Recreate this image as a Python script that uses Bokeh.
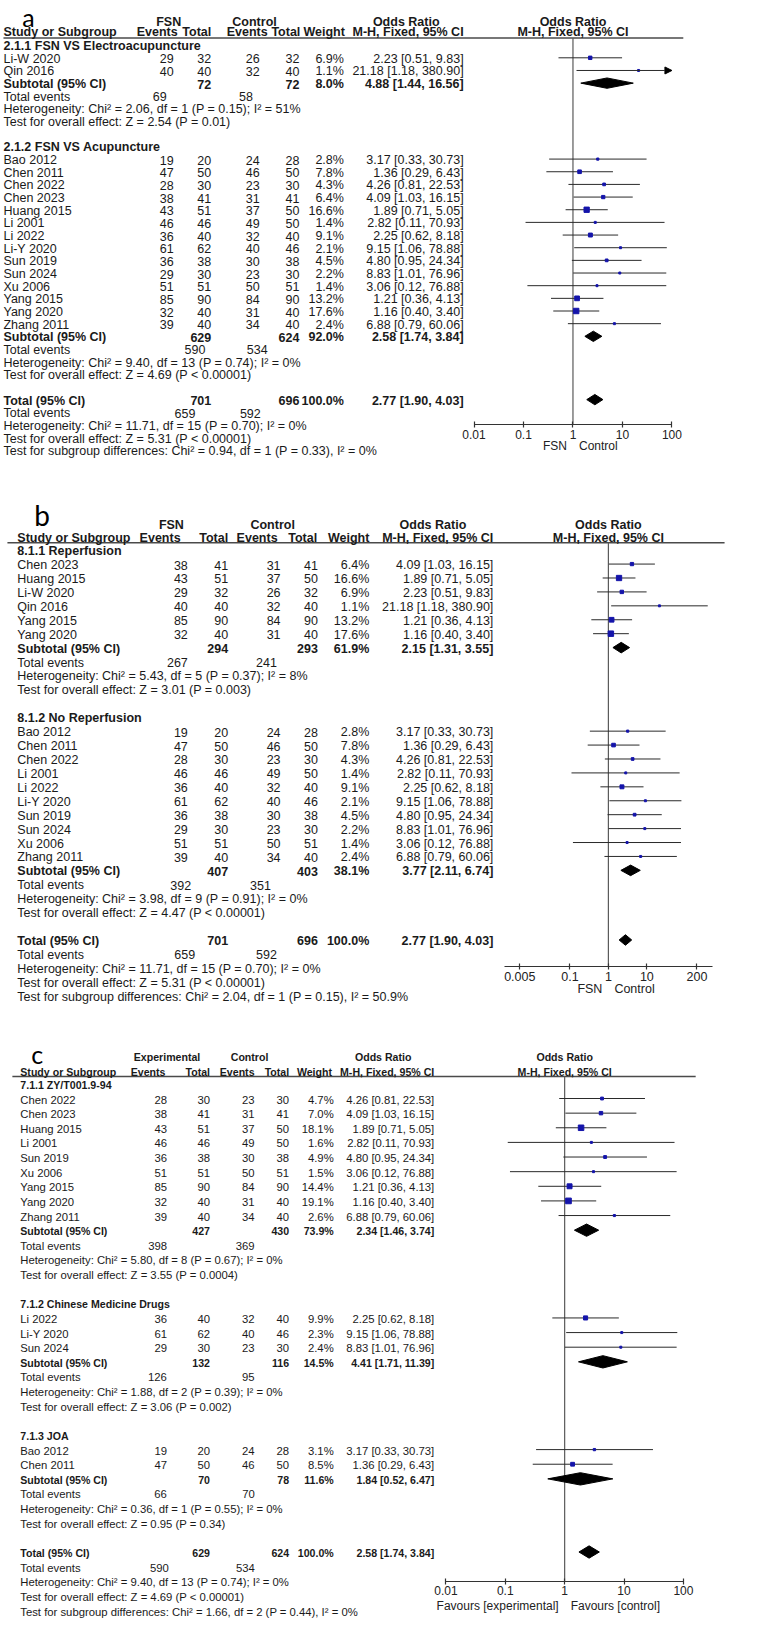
import math
from bokeh.plotting import figure
from bokeh.models import (Range1d, LogScale, LogAxis, FixedTicker, CustomJSTickFormatter,
                          ColumnDataSource, Arrow, NormalHead)
from bokeh.core.properties import value
from bokeh.embed import file_html
from bokeh.resources import INLINE

# ====================== DATA: panel a ======================
A_GROUPS = ["2.1.1 FSN VS Electroacupuncture", "2.1.2 FSN VS Acupuncture"]
A_STUDY = ["Li-W 2020", "Qin 2016", "Bao 2012", "Chen 2011", "Chen 2022", "Chen 2023", "Huang 2015",
           "Li 2001", "Li 2022", "Li-Y 2020", "Sun 2019", "Sun 2024", "Xu 2006", "Yang 2015",
           "Yang 2020", "Zhang 2011"]
A_GROUP = [0, 0, 1, 1, 1, 1, 1, 1, 1, 1, 1, 1, 1, 1, 1, 1]
A_EXP_EV = [29, 40, 19, 47, 28, 38, 43, 46, 36, 61, 36, 29, 51, 85, 32, 39]
A_EXP_N = [32, 40, 20, 50, 30, 41, 51, 46, 40, 62, 38, 30, 51, 90, 40, 40]
A_CTL_EV = [26, 32, 24, 46, 23, 31, 37, 49, 32, 40, 30, 23, 50, 84, 31, 34]
A_CTL_N = [32, 40, 28, 50, 30, 41, 50, 50, 40, 46, 38, 30, 51, 90, 40, 40]
A_WEIGHT = [6.9, 1.1, 2.8, 7.8, 4.3, 6.4, 16.6, 1.4, 9.1, 2.1, 4.5, 2.2, 1.4, 13.2, 17.6, 2.4]
A_OR = [2.23, 21.18, 3.17, 1.36, 4.26, 4.09, 1.89, 2.82, 2.25, 9.15, 4.80, 8.83, 3.06, 1.21, 1.16, 6.88]
A_LO = [0.51, 1.18, 0.33, 0.29, 0.81, 1.03, 0.71, 0.11, 0.62, 1.06, 0.95, 1.01, 0.12, 0.36, 0.40, 0.79]
A_HI = [9.83, 380.90, 30.73, 6.43, 22.53, 16.15, 5.05, 70.93, 8.18, 78.88, 24.34, 76.96, 76.88, 4.13, 3.40, 60.06]
A_SUB_EXP_N = [72, 629]
A_SUB_CTL_N = [72, 624]
A_SUB_WEIGHT = [8.0, 92.0]
A_SUB_OR = [4.88, 2.58]
A_SUB_LO = [1.44, 1.74]
A_SUB_HI = [16.56, 3.84]
A_SUB_EXP_EV = [69, 590]
A_SUB_CTL_EV = [58, 534]
A_SUB_HET = ["Heterogeneity: Chi² = 2.06, df = 1 (P = 0.15); I² = 51%",
             "Heterogeneity: Chi² = 9.40, df = 13 (P = 0.74); I² = 0%"]
A_SUB_Z = ["Test for overall effect: Z = 2.54 (P = 0.01)",
           "Test for overall effect: Z = 4.69 (P < 0.00001)"]
A_TOT_N = [701, 696]
A_TOT_WEIGHT = 100.0
A_TOT_CI = [2.77, 1.90, 4.03]
A_TOT_EV = [659, 592]
A_TOT_HET = "Heterogeneity: Chi² = 11.71, df = 15 (P = 0.70); I² = 0%"
A_TOT_Z = "Test for overall effect: Z = 5.31 (P < 0.00001)"
A_SUBDIFF = "Test for subgroup differences: Chi² = 0.94, df = 1 (P = 0.33), I² = 0%"
A_TICKS = [0.01, 0.1, 1, 10, 100]
A_ARMS = ["FSN", "Control"]
A_FAVOURS = ["FSN", "Control"]

# ====================== DATA: panel b ======================
B_GROUPS = ["8.1.1 Reperfusion", "8.1.2 No Reperfusion"]
B_STUDY = ["Chen 2023", "Huang 2015", "Li-W 2020", "Qin 2016", "Yang 2015", "Yang 2020",
           "Bao 2012", "Chen 2011", "Chen 2022", "Li 2001", "Li 2022", "Li-Y 2020", "Sun 2019",
           "Sun 2024", "Xu 2006", "Zhang 2011"]
B_GROUP = [0, 0, 0, 0, 0, 0, 1, 1, 1, 1, 1, 1, 1, 1, 1, 1]
B_EXP_EV = [38, 43, 29, 40, 85, 32, 19, 47, 28, 46, 36, 61, 36, 29, 51, 39]
B_EXP_N = [41, 51, 32, 40, 90, 40, 20, 50, 30, 46, 40, 62, 38, 30, 51, 40]
B_CTL_EV = [31, 37, 26, 32, 84, 31, 24, 46, 23, 49, 32, 40, 30, 23, 50, 34]
B_CTL_N = [41, 50, 32, 40, 90, 40, 28, 50, 30, 50, 40, 46, 38, 30, 51, 40]
B_WEIGHT = [6.4, 16.6, 6.9, 1.1, 13.2, 17.6, 2.8, 7.8, 4.3, 1.4, 9.1, 2.1, 4.5, 2.2, 1.4, 2.4]
B_OR = [4.09, 1.89, 2.23, 21.18, 1.21, 1.16, 3.17, 1.36, 4.26, 2.82, 2.25, 9.15, 4.80, 8.83, 3.06, 6.88]
B_LO = [1.03, 0.71, 0.51, 1.18, 0.36, 0.40, 0.33, 0.29, 0.81, 0.11, 0.62, 1.06, 0.95, 1.01, 0.12, 0.79]
B_HI = [16.15, 5.05, 9.83, 380.90, 4.13, 3.40, 30.73, 6.43, 22.53, 70.93, 8.18, 78.88, 24.34, 76.96, 76.88, 60.06]
B_SUB_EXP_N = [294, 407]
B_SUB_CTL_N = [293, 403]
B_SUB_WEIGHT = [61.9, 38.1]
B_SUB_OR = [2.15, 3.77]
B_SUB_LO = [1.31, 2.11]
B_SUB_HI = [3.55, 6.74]
B_SUB_EXP_EV = [267, 392]
B_SUB_CTL_EV = [241, 351]
B_SUB_HET = ["Heterogeneity: Chi² = 5.43, df = 5 (P = 0.37); I² = 8%",
             "Heterogeneity: Chi² = 3.98, df = 9 (P = 0.91); I² = 0%"]
B_SUB_Z = ["Test for overall effect: Z = 3.01 (P = 0.003)",
           "Test for overall effect: Z = 4.47 (P < 0.00001)"]
B_TOT_N = [701, 696]
B_TOT_WEIGHT = 100.0
B_TOT_CI = [2.77, 1.90, 4.03]
B_TOT_EV = [659, 592]
B_TOT_HET = "Heterogeneity: Chi² = 11.71, df = 15 (P = 0.70); I² = 0%"
B_TOT_Z = "Test for overall effect: Z = 5.31 (P < 0.00001)"
B_SUBDIFF = "Test for subgroup differences: Chi² = 2.04, df = 1 (P = 0.15), I² = 50.9%"
B_TICKS = [0.005, 0.1, 1, 10, 200]
B_ARMS = ["FSN", "Control"]
B_FAVOURS = ["FSN", "Control"]

# ====================== DATA: panel c ======================
C_GROUPS = ["7.1.1 ZY/T001.9-94", "7.1.2 Chinese Medicine Drugs", "7.1.3 JOA"]
C_STUDY = ["Chen 2022", "Chen 2023", "Huang 2015", "Li 2001", "Sun 2019", "Xu 2006", "Yang 2015",
           "Yang 2020", "Zhang 2011", "Li 2022", "Li-Y 2020", "Sun 2024", "Bao 2012", "Chen 2011"]
C_GROUP = [0, 0, 0, 0, 0, 0, 0, 0, 0, 1, 1, 1, 2, 2]
C_EXP_EV = [28, 38, 43, 46, 36, 51, 85, 32, 39, 36, 61, 29, 19, 47]
C_EXP_N = [30, 41, 51, 46, 38, 51, 90, 40, 40, 40, 62, 30, 20, 50]
C_CTL_EV = [23, 31, 37, 49, 30, 50, 84, 31, 34, 32, 40, 23, 24, 46]
C_CTL_N = [30, 41, 50, 50, 38, 51, 90, 40, 40, 40, 46, 30, 28, 50]
C_WEIGHT = [4.7, 7.0, 18.1, 1.6, 4.9, 1.5, 14.4, 19.1, 2.6, 9.9, 2.3, 2.4, 3.1, 8.5]
C_OR = [4.26, 4.09, 1.89, 2.82, 4.80, 3.06, 1.21, 1.16, 6.88, 2.25, 9.15, 8.83, 3.17, 1.36]
C_LO = [0.81, 1.03, 0.71, 0.11, 0.95, 0.12, 0.36, 0.40, 0.79, 0.62, 1.06, 1.01, 0.33, 0.29]
C_HI = [22.53, 16.15, 5.05, 70.93, 24.34, 76.88, 4.13, 3.40, 60.06, 8.18, 78.88, 76.96, 30.73, 6.43]
C_SUB_EXP_N = [427, 132, 70]
C_SUB_CTL_N = [430, 116, 78]
C_SUB_WEIGHT = [73.9, 14.5, 11.6]
C_SUB_OR = [2.34, 4.41, 1.84]
C_SUB_LO = [1.46, 1.71, 0.52]
C_SUB_HI = [3.74, 11.39, 6.47]
C_SUB_EXP_EV = [398, 126, 66]
C_SUB_CTL_EV = [369, 95, 70]
C_SUB_HET = ["Heterogeneity: Chi² = 5.80, df = 8 (P = 0.67); I² = 0%",
             "Heterogeneity: Chi² = 1.88, df = 2 (P = 0.39); I² = 0%",
             "Heterogeneity: Chi² = 0.36, df = 1 (P = 0.55); I² = 0%"]
C_SUB_Z = ["Test for overall effect: Z = 3.55 (P = 0.0004)",
           "Test for overall effect: Z = 3.06 (P = 0.002)",
           "Test for overall effect: Z = 0.95 (P = 0.34)"]
C_TOT_N = [629, 624]
C_TOT_WEIGHT = 100.0
C_TOT_CI = [2.58, 1.74, 3.84]
C_TOT_EV = [590, 534]
C_TOT_HET = "Heterogeneity: Chi² = 9.40, df = 13 (P = 0.74); I² = 0%"
C_TOT_Z = "Test for overall effect: Z = 4.69 (P < 0.00001)"
C_SUBDIFF = "Test for subgroup differences: Chi² = 1.66, df = 2 (P = 0.44), I² = 0%"
C_TICKS = [0.01, 0.1, 1, 10, 100]
C_ARMS = ["Experimental", "Control"]
C_FAVOURS = ["Favours [experimental]", "Favours [control]"]

NULL_OR = 1

# ====================== LAYOUT (positions / styles) ======================
LAYOUT_A = dict(rng="fa", x_one=578.5, ppd=50.0, row0=48.9, dy=12.73, xl=3,
                cols=[175, 213, 262, 302, 347, 468], ev_x=[(168, 255), (207, 270)], tot_ev_x=(197, 263),
                head_y=26, head2_y=36, head_x=[170, 256.7, 410], head2_r=[179, 213, 270, 303, 348, 468],
                hline=(3, 690, 41.7), axis_y=430.7, bounds=(0.01, 100), fav_y=452,
                fs=12.5, fsb=12.5, tick_fs=12, letter=("a", 22, 21, 25), dh=5.2)
LAYOUT_B = dict(rng="fb", x_one=614.3, ppd=38.9, row0=556.7, dy=14.0, xl=17,
                cols=[189.3, 230, 283, 320.7, 372.7, 498], ev_x=[(189.3, 279.3), (192.7, 273.3)],
                tot_ev_x=(196.7, 279.3),
                head_y=531.7, head2_y=544.3, head_x=[172.7, 275, 437], head2_r=[182, 230, 280, 320, 372.7, 498],
                hline=(7, 731.7, 549.3), axis_y=975.7, bounds=(0.002, 500), fav_y=998,
                fs=12.5, fsb=12.5, tick_fs=12.5, letter=("b", 34, 521, 28), dh=5.3)
LAYOUT_C = dict(rng="fc", x_one=570.1, ppd=60.0, row0=1093.4, dy=14.71, xl=20,
                cols=[168.3, 211.7, 256.7, 291.7, 336.7, 438.3],
                ev_x=[(168.3, 256.7), (168, 256.7), (168, 257)], tot_ev_x=(170, 257),
                head_y=1066, head2_y=1081.7, head_x=[168.3, 251.7, 386.7],
                head2_r=[166.7, 211.7, 256.7, 291.7, 335, 438.3],
                hline=(12, 702.5, 1086), axis_y=1593.7, bounds=(0.01, 100), fav_y=1618,
                fs=11.3, fsb=10.6, tick_fs=12, letter=("c", 31, 1063, 25), dh=6.2)

X_SPAN = (0, 767)
Y_SPAN = (1634, 4)
TEXT_FONT = "Liberation Sans"
SQUARE_COLOR = "#1414aa"
LINE_COLOR = "#2a2a2a"
AXIS_COLOR = "#333333"


def log_range(L):
    lo = 10 ** ((X_SPAN[0] - L["x_one"]) / L["ppd"])
    hi = 10 ** ((X_SPAN[1] - L["x_one"]) / L["ppd"])
    return Range1d(lo, hi)


p = figure(width=759, height=1621, x_range=Range1d(*X_SPAN), y_range=Range1d(*Y_SPAN),
           output_backend="svg", toolbar_location=None, x_axis_location=None, y_axis_location=None,
           min_border=0, outline_line_color=None, title=None,
           extra_x_ranges={L["rng"]: log_range(L) for L in (LAYOUT_A, LAYOUT_B, LAYOUT_C)},
           extra_x_scales={L["rng"]: LogScale() for L in (LAYOUT_A, LAYOUT_B, LAYOUT_C)})
p.xgrid.visible = False
p.ygrid.visible = False


def fmt_ci(e, l, h):
    return f"{e:.2f} [{l:.2f}, {h:.2f}]"


def build(D, L):
    rng = L["rng"]
    off = 1.0
    T = dict(x=[], y=[], text=[], align=[], style=[], size=[])

    def add(x, y, s, align="left", bold=False):
        T["x"].append(x)
        T["y"].append(y)
        T["text"].append(str(s))
        T["align"].append(align)
        T["style"].append("bold" if bold else "normal")
        T["size"].append(f'{L["fsb"] if bold else L["fs"]}px')

    def ty(r):
        return L["row0"] + r * L["dy"]

    cols, xl = L["cols"], L["xl"]
    add(L["head_x"][0], L["head_y"], D["arms"][0], "center", True)
    add(L["head_x"][1], L["head_y"], D["arms"][1], "center", True)
    add(L["head_x"][2], L["head_y"], "Odds Ratio", "center", True)
    add(xl, L["head2_y"], "Study or Subgroup", "left", True)
    for x, s in zip(L["head2_r"], ["Events", "Total", "Events", "Total", "Weight", "M-H, Fixed, 95% CI"]):
        add(x, L["head2_y"], s, "right", True)

    seg = dict(x0=[], x1=[], y=[])
    arr = dict(x0=[], x1=[], y=[])
    sq = dict(x=[], y=[], size=[])
    dia = dict(xs=[], ys=[])
    amax = L["bounds"][1]
    h = L["dh"]

    r = 0
    for g, gname in enumerate(D["groups"]):
        add(xl, ty(r) + off, gname, "left", True)
        r += 1
        for i, gi in enumerate(D["group"]):
            if gi != g:
                continue
            y = ty(r)
            add(xl, y + off, D["study"][i])
            add(cols[0], y + off, D["exp_ev"][i], "right")
            add(cols[1], y + off, D["exp_n"][i], "right")
            add(cols[2], y + off, D["ctl_ev"][i], "right")
            add(cols[3], y + off, D["ctl_n"][i], "right")
            add(cols[4], y + off, f'{D["w"][i]:.1f}%', "right")
            add(cols[5], y + off, fmt_ci(D["or"][i], D["lo"][i], D["hi"][i]), "right")
            if D["hi"][i] > amax:
                arr["x0"].append(D["lo"][i]); arr["x1"].append(amax); arr["y"].append(y)
            else:
                seg["x0"].append(D["lo"][i]); seg["x1"].append(D["hi"][i]); seg["y"].append(y)
            sq["x"].append(D["or"][i]); sq["y"].append(y)
            sq["size"].append(max(2.0, 1.3 * math.sqrt(D["w"][i])))
            r += 1
        y = ty(r)
        add(xl, y + off, "Subtotal (95% CI)", "left", True)
        add(cols[1], y + off, D["sub_exp_n"][g], "right", True)
        add(cols[3], y + off, D["sub_ctl_n"][g], "right", True)
        add(cols[4], y + off, f'{D["sub_w"][g]:.1f}%', "right", True)
        add(cols[5], y + off, fmt_ci(D["sub_or"][g], D["sub_lo"][g], D["sub_hi"][g]), "right", True)
        e, lo, hi = D["sub_or"][g], D["sub_lo"][g], D["sub_hi"][g]
        dia["xs"].append([lo, e, hi, e]); dia["ys"].append([y, y - h, y, y + h])
        r += 1
        add(xl, ty(r) + off, "Total events")
        add(L["ev_x"][g][0], ty(r) + off, D["sub_exp_ev"][g], "right")
        add(L["ev_x"][g][1], ty(r) + off, D["sub_ctl_ev"][g], "right")
        r += 1
        add(xl, ty(r) + off, D["sub_het"][g])
        r += 1
        add(xl, ty(r) + off, D["sub_z"][g])
        r += 2
    y = ty(r)
    add(xl, y + off, "Total (95% CI)", "left", True)
    add(cols[1], y + off, D["tot_n"][0], "right", True)
    add(cols[3], y + off, D["tot_n"][1], "right", True)
    add(cols[4], y + off, f'{D["tot_w"]:.1f}%', "right", True)
    e, lo, hi = D["tot_ci"]
    add(cols[5], y + off, fmt_ci(e, lo, hi), "right", True)
    dia["xs"].append([lo, e, hi, e]); dia["ys"].append([y, y - h, y, y + h])
    r += 1
    add(xl, ty(r) + off, "Total events")
    add(L["tot_ev_x"][0], ty(r) + off, D["tot_ev"][0], "right")
    add(L["tot_ev_x"][1], ty(r) + off, D["tot_ev"][1], "right")
    r += 1
    add(xl, ty(r) + off, D["tot_het"])
    r += 1
    add(xl, ty(r) + off, D["tot_z"])
    r += 1
    add(xl, ty(r) + off, D["subdiff"])

    # header rule
    x0, x1, yh = L["hline"]
    p.segment(x0=[x0], x1=[x1], y0=[yh], y1=[yh], line_color="#4a4a4a", line_width=1.6)

    # table texts
    p.text(x="x", y="y", text="text", source=ColumnDataSource(T), text_align="align",
           text_font_style="style", text_font_size="size", text_baseline="middle",
           text_font=value(TEXT_FONT), text_color="#1a1a1a")

    # panel letter
    lt, lx, ly, ls = L["letter"]
    p.text(x=[lx], y=[ly], text=[lt], text_font=value("Lato"), text_font_size=f"{ls}px",
           text_baseline="alphabetic", text_align="left", text_color="black")

    # forest header
    p.text(x=[NULL_OR, NULL_OR], y=[L["head_y"], L["head2_y"]], text=["Odds Ratio", "M-H, Fixed, 95% CI"],
           x_range_name=rng, text_align="center", text_baseline="middle", text_font_style="bold",
           text_font=value(TEXT_FONT), text_font_size=f'{L["fsb"]}px', text_color="#1a1a1a")

    # null line
    p.segment(x0=[NULL_OR], x1=[NULL_OR], y0=[yh], y1=[L["axis_y"]], x_range_name=rng,
              line_color="#5a5a5a", line_width=1.2)

    # study CIs
    p.segment(x0="x0", x1="x1", y0="y", y1="y", source=ColumnDataSource(seg), x_range_name=rng,
              line_color=LINE_COLOR, line_width=1)
    if arr["y"]:
        p.add_layout(Arrow(source=ColumnDataSource(arr), x_start="x0", x_end="x1", y_start="y", y_end="y",
                           x_range_name=rng, line_color=LINE_COLOR, line_width=1,
                           end=NormalHead(size=7, line_color="black", fill_color="black")))
    p.scatter(x="x", y="y", size="size", marker="square", source=ColumnDataSource(sq), x_range_name=rng,
              fill_color=SQUARE_COLOR, line_color=SQUARE_COLOR)
    p.patches(xs="xs", ys="ys", source=ColumnDataSource(dia), x_range_name=rng,
              fill_color="black", line_color="black")

    # odds-ratio axis, placed inside the plot at this panel's foot
    ax = LogAxis(x_range_name=rng, fixed_location=L["axis_y"], bounds=L["bounds"],
                 ticker=FixedTicker(ticks=D["ticks"]),
                 formatter=CustomJSTickFormatter(code="return tick.toString();"),
                 axis_line_color=AXIS_COLOR, axis_line_width=1.2,
                 major_tick_line_color=AXIS_COLOR, major_tick_line_width=1.2,
                 major_tick_in=3, major_tick_out=3, minor_tick_line_color=None,
                 major_label_text_font=TEXT_FONT, major_label_text_font_size=f'{L["tick_fs"]}px',
                 major_label_text_color="#222222", major_label_standoff=2)
    p.add_layout(ax, "below")

    # favours labels
    fav = ColumnDataSource(dict(x=[NULL_OR, NULL_OR], y=[L["fav_y"], L["fav_y"]], text=D["favours"],
                                align=["right", "left"], xo=[-6, 6]))
    p.text(x="x", y="y", text="text", source=fav, x_range_name=rng, text_align="align", x_offset="xo",
           text_baseline="middle", text_font=value(TEXT_FONT), text_font_size=f'{L["tick_fs"]}px',
           text_color="#222222")


def pack(groups, study, group, exp_ev, exp_n, ctl_ev, ctl_n, w, orr, lo, hi,
         sub_exp_n, sub_ctl_n, sub_w, sub_or, sub_lo, sub_hi, sub_exp_ev, sub_ctl_ev, sub_het, sub_z,
         tot_n, tot_w, tot_ci, tot_ev, tot_het, tot_z, subdiff, ticks, arms, favours):
    return dict(groups=groups, study=study, group=group, exp_ev=exp_ev, exp_n=exp_n, ctl_ev=ctl_ev,
                ctl_n=ctl_n, w=w, lo=lo, hi=hi, sub_exp_n=sub_exp_n, sub_ctl_n=sub_ctl_n, sub_w=sub_w,
                sub_or=sub_or, sub_lo=sub_lo, sub_hi=sub_hi, sub_exp_ev=sub_exp_ev, sub_ctl_ev=sub_ctl_ev,
                sub_het=sub_het, sub_z=sub_z, tot_n=tot_n, tot_w=tot_w, tot_ci=tot_ci, tot_ev=tot_ev,
                tot_het=tot_het, tot_z=tot_z, subdiff=subdiff, ticks=ticks, arms=arms, favours=favours,
                **{"or": orr})


build(pack(A_GROUPS, A_STUDY, A_GROUP, A_EXP_EV, A_EXP_N, A_CTL_EV, A_CTL_N, A_WEIGHT, A_OR, A_LO, A_HI,
           A_SUB_EXP_N, A_SUB_CTL_N, A_SUB_WEIGHT, A_SUB_OR, A_SUB_LO, A_SUB_HI, A_SUB_EXP_EV, A_SUB_CTL_EV,
           A_SUB_HET, A_SUB_Z, A_TOT_N, A_TOT_WEIGHT, A_TOT_CI, A_TOT_EV, A_TOT_HET, A_TOT_Z, A_SUBDIFF,
           A_TICKS, A_ARMS, A_FAVOURS), LAYOUT_A)
build(pack(B_GROUPS, B_STUDY, B_GROUP, B_EXP_EV, B_EXP_N, B_CTL_EV, B_CTL_N, B_WEIGHT, B_OR, B_LO, B_HI,
           B_SUB_EXP_N, B_SUB_CTL_N, B_SUB_WEIGHT, B_SUB_OR, B_SUB_LO, B_SUB_HI, B_SUB_EXP_EV, B_SUB_CTL_EV,
           B_SUB_HET, B_SUB_Z, B_TOT_N, B_TOT_WEIGHT, B_TOT_CI, B_TOT_EV, B_TOT_HET, B_TOT_Z, B_SUBDIFF,
           B_TICKS, B_ARMS, B_FAVOURS), LAYOUT_B)
build(pack(C_GROUPS, C_STUDY, C_GROUP, C_EXP_EV, C_EXP_N, C_CTL_EV, C_CTL_N, C_WEIGHT, C_OR, C_LO, C_HI,
           C_SUB_EXP_N, C_SUB_CTL_N, C_SUB_WEIGHT, C_SUB_OR, C_SUB_LO, C_SUB_HI, C_SUB_EXP_EV, C_SUB_CTL_EV,
           C_SUB_HET, C_SUB_Z, C_TOT_N, C_TOT_WEIGHT, C_TOT_CI, C_TOT_EV, C_TOT_HET, C_TOT_Z, C_SUBDIFF,
           C_TICKS, C_ARMS, C_FAVOURS), LAYOUT_C)

open("out.html", "w").write(file_html(p, INLINE))
